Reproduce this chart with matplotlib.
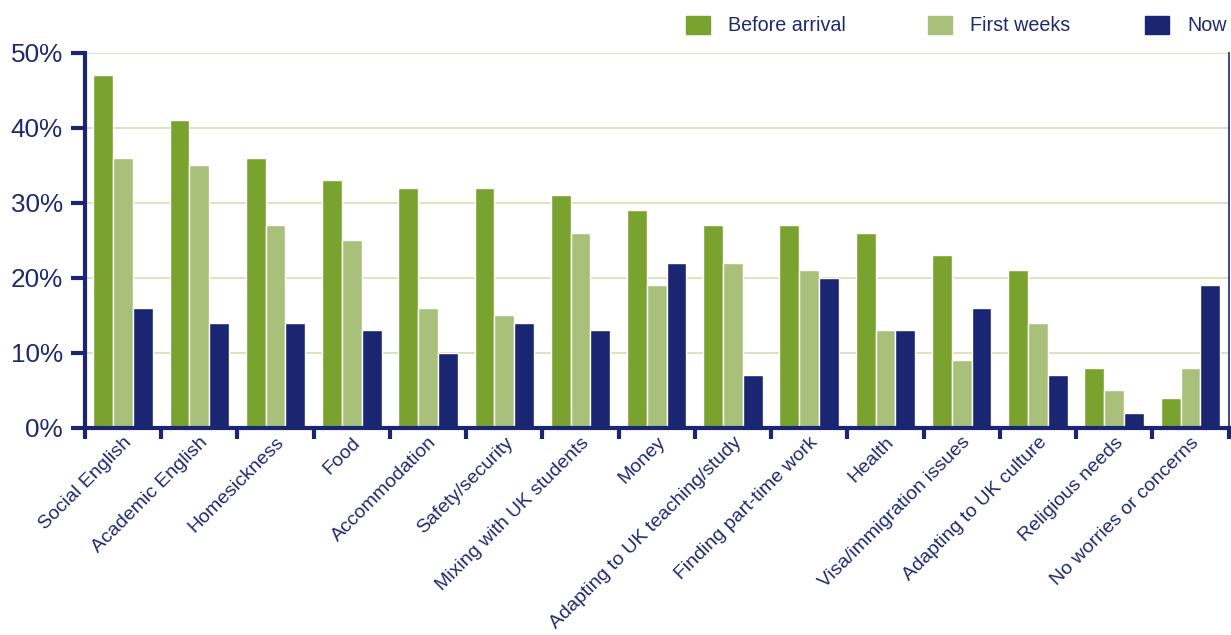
import matplotlib.pyplot as plt
import numpy as np
from matplotlib.patches import Rectangle

plt.rcParams['font.family'] = ['Liberation Sans', 'DejaVu Sans']

categories = ['Social English', 'Academic English', 'Homesickness', 'Food',
              'Accommodation', 'Safety/security', 'Mixing with UK students',
              'Money', 'Adapting to UK teaching/study', 'Finding part-time work',
              'Health', 'Visa/immigration issues', 'Adapting to UK culture',
              'Religious needs', 'No worries or concerns']
before_arrival = [47, 41, 36, 33, 32, 32, 31, 29, 27, 27, 26, 23, 21, 8, 4]
first_weeks = [36, 35, 27, 25, 16, 15, 26, 19, 22, 21, 13, 9, 14, 5, 8]
now = [16, 14, 14, 13, 10, 14, 13, 22, 7, 20, 13, 16, 7, 2, 19]
series_names = ['Before arrival', 'First weeks', 'Now']

NAVY = '#1b2673'
TEXT = '#1f2a6e'
colors = ['#7aa22f', '#a8c07a', '#1b2673']
GRID = '#d3dfb2'

fig = plt.figure(figsize=(12.31, 6.35), dpi=100)
ax = fig.add_axes([0.069, 0.326, 0.929, 0.591])
ax.set_axisbelow(True)

x = np.arange(len(categories))
width = 0.26
for i, (vals, col) in enumerate(zip([before_arrival, first_weeks, now], colors)):
    ax.bar(x + (i - 1) * width, vals, width, color=col,
           edgecolor='white', linewidth=1.0, zorder=2)

ax.set_xlim(-0.5, len(categories) - 0.5)
ax.set_ylim(0, 50)
ax.set_yticks(range(0, 51, 10))
ax.set_yticklabels([f'{v}%' for v in range(0, 51, 10)], fontsize=18.8, color=TEXT)
ax.yaxis.grid(True, color=GRID, linewidth=1.2, zorder=0)
ax.tick_params(axis='y', length=10, width=3, color=NAVY, pad=6)

# group separators as ticks on the bottom axis
ax.set_xticks(np.arange(-0.5, len(categories), 1.0))
ax.set_xticklabels([])
ax.tick_params(axis='x', length=8, width=3, color=NAVY)
for xi, label in zip(x, categories):
    ax.text(xi + 0.08, -1.6, label, rotation=45, ha='right', va='center',
            rotation_mode='anchor', fontsize=14, color=TEXT,
            transform=ax.transData)

for side in ['left', 'bottom']:
    ax.spines[side].set_color(NAVY)
    ax.spines[side].set_linewidth(3)
    ax.spines[side].set_zorder(3)
ax.spines['right'].set_color(NAVY)
ax.spines['right'].set_linewidth(1.2)
ax.spines['top'].set_visible(False)

# legend row above the plot
marker_x = [0.5573, 0.7539, 0.9301]
for mx, name, col in zip(marker_x, series_names, colors):
    fig.add_artist(Rectangle((mx, 0.9465), 0.0195, 0.0283, color=col,
                             transform=fig.transFigure))
    fig.text(mx + 0.0341, 0.960, name, fontsize=14.2, color=TEXT, va='center')

fig.savefig('out.png', dpi=100)
